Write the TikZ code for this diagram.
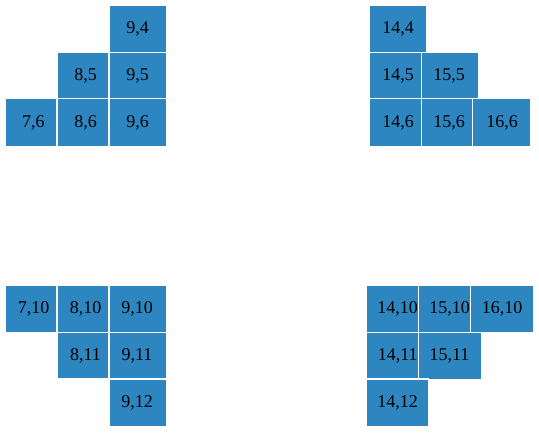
\documentclass[tikz,border=0pt]{standalone}
\usepackage{fontspec}
\setmainfont{Liberation Serif}
\definecolor{cellblue}{RGB}{46,134,193}
\tikzstyle{cell} = [fill=cellblue, draw=white, line width=1.2pt]
\tikzstyle{num} = [inner sep=0pt, text=black, font=\fontsize{18}{20}\selectfont]
\begin{document}
\begin{tikzpicture}[x=1pt, y=-1pt]
		\useasboundingbox (0,0) rectangle (539,432);
		
		% top left block
		\draw [cell] (109,5.4) rectangle (166.6,52.5);
		\draw [cell] (56.9,52.5) rectangle (109,98.5);
		\draw [cell] (109,52.5) rectangle (166.6,98.5);
		\draw [cell] (5.4,98.5) rectangle (56.9,146.6);
		\draw [cell] (56.9,98.5) rectangle (109,146.6);
		\draw [cell] (109,98.5) rectangle (166.6,146.6);
		
		\node (t94) [num] at (137.5,29) {9,4};
		\node (t85) [num] at (85.5,75.5) {8,5};
		\node (t95) [num] at (137.5,75.5) {9,5};
		\node (t76) [num] at (33.5,122.5) {7,6};
		\node (t86) [num] at (85.5,122.5) {8,6};
		\node (t96) [num] at (137.5,122.5) {9,6};
		
		% top right block
		\draw [cell] (369.4,5.4) rectangle (426.6,52.5);
		\draw [cell] (369.4,52.5) rectangle (421.5,98.5);
		\draw [cell] (421.5,52.5) rectangle (478.6,98.5);
		\draw [cell] (369.4,98.5) rectangle (421.5,146.6);
		\draw [cell] (421.5,98.5) rectangle (472.5,146.6);
		\draw [cell] (472.5,98.5) rectangle (530.6,146.6);
		
		\node (t144) [num] at (398,29) {14,4};
		\node (t145) [num] at (398,75.5) {14,5};
		\node (t155) [num] at (449,75.5) {15,5};
		\node (t146) [num] at (398,122.5) {14,6};
		\node (t156) [num] at (449,122.5) {15,6};
		\node (t166) [num] at (502,122.5) {16,6};
		
		% bottom left block
		\draw [cell] (5.4,285.4) rectangle (56.9,332.5);
		\draw [cell] (56.9,285.4) rectangle (109,332.5);
		\draw [cell] (109,285.4) rectangle (166.6,332.5);
		\draw [cell] (56.9,332.5) rectangle (109,379);
		\draw [cell] (109,332.5) rectangle (166.6,379);
		\draw [cell] (109,379) rectangle (166.6,426.6);
		
		\node (t710) [num] at (33.5,309) {7,10};
		\node (t810) [num] at (85.5,309) {8,10};
		\node (t910) [num] at (137,309) {9,10};
		\node (t811) [num] at (85.5,355.5) {8,11};
		\node (t911) [num] at (137,355.5) {9,11};
		\node (t912) [num] at (137,402.5) {9,12};
		
		% bottom right block
		\draw [cell] (366.4,285.4) rectangle (418.5,332.5);
		\draw [cell] (418.5,285.4) rectangle (470.5,332.5);
		\draw [cell] (470.5,285.4) rectangle (533.6,332.5);
		\draw [cell] (366.4,332.5) rectangle (418.5,378.5);
		\draw [cell] (418.5,332.5) rectangle (481.6,379.5);
		\draw [cell] (366.4,379) rectangle (428.6,426.6);
		
		\node (t1410) [num] at (397.7,309) {14,10};
		\node (t1510) [num] at (449.5,309) {15,10};
		\node (t1610) [num] at (502,309) {16,10};
		\node (t1411) [num] at (397.7,355.5) {14,11};
		\node (t1511) [num] at (449.5,355.5) {15,11};
		\node (t1412) [num] at (397.7,402.5) {14,12};
		
\end{tikzpicture}
\end{document}
